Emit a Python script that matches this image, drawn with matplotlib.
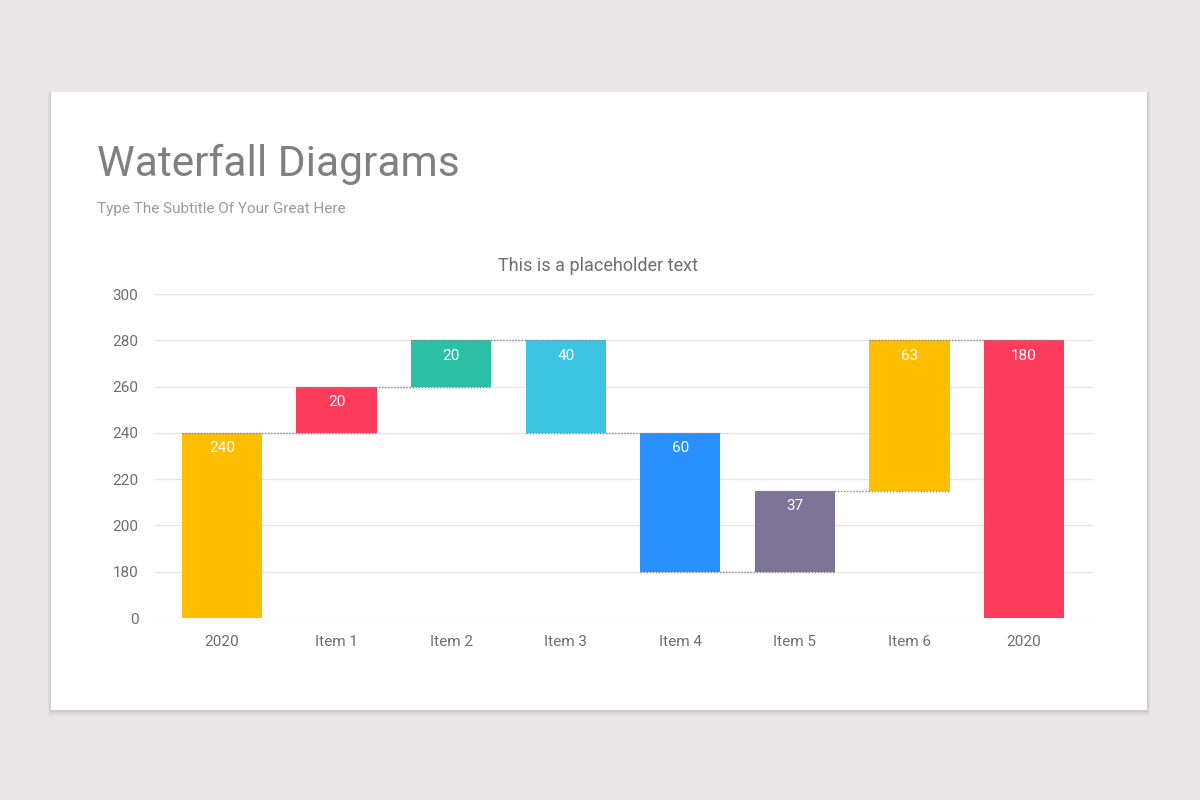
import numpy as np
import matplotlib.pyplot as plt
from matplotlib.patches import Rectangle

plt.rcParams['font.family'] = ['Roboto', 'DejaVu Sans']

# -------------------------------------------------
# data
# -------------------------------------------------
categories = ["2020", "Item 1", "Item 2", "Item 3", "Item 4", "Item 5", "Item 6", "2020"]
lows = [0, 240, 260, 240, 180, 180, 215, 0]
highs = [240, 260, 280, 280, 240, 215, 280, 280]
value_labels = ["240", "20", "20", "40", "60", "37", "63", "180"]
levels = [240, 260, 280, 240, 180, 215, 280]   # connector between bar i and i+1
colors = ["#FFBF00", "#FF3B5C", "#2BBFA6", "#3CC5E2", "#2990FF", "#7E7399", "#FFBF00", "#FF3B5C"]
yticks = [0, 180, 200, 220, 240, 260, 280, 300]


# broken axis: 0..180 squeezed into one tick step
def fwd(v):
    v = np.asarray(v, dtype=float)
    return np.where(v >= 180, v, 160 + v / 9.0)


def inv(y):
    y = np.asarray(y, dtype=float)
    return np.where(y >= 180, y, (y - 160) * 9.0)


fig = plt.figure(figsize=(12, 8), dpi=100)
fig.patch.set_facecolor("#E9E7E8")

# card with a soft shadow
for off, a in [(6, 0.03), (4, 0.04), (2, 0.05)]:
    fig.patches.append(Rectangle(((51 - off / 2) / 1200, (90 - off) / 800),
                                 (1096 + off) / 1200, (618 + off) / 800,
                                 transform=fig.transFigure, facecolor="black",
                                 alpha=a, edgecolor="none", zorder=-3))
fig.patches.append(Rectangle((51 / 1200, 90 / 800), 1096 / 1200, 618 / 800,
                             transform=fig.transFigure, facecolor="white",
                             edgecolor="none", zorder=-2))

fig.text(97 / 1200, 1 - 164 / 800, "Waterfall Diagrams", fontsize=30.6,
         color="#808080", va="center", ha="left")
fig.text(97 / 1200, 1 - 209 / 800, "Type The Subtitle Of Your Great Here",
         fontsize=11, color="#9A9A9A", va="center", ha="left")
fig.text(598 / 1200, 1 - 266 / 800, "This is a placeholder text",
         fontsize=13, color="#6E6E6E", va="center", ha="center")

ax = fig.add_axes([155 / 1200, 1 - 618 / 800, 938 / 1200, 324 / 800])
ax.set_zorder(2)
ax.set_facecolor("none")
ax.set_yscale("function", functions=(fwd, inv))
ax.set_ylim(0, 300)
ax.set_xlim(-0.585, 7.602)

x = np.arange(len(categories))
w = 0.7
heights = [h - l for h, l in zip(highs, lows)]
ax.bar(x, heights, bottom=lows, width=w, color=colors, zorder=2)

for i, lv in enumerate(levels):
    ax.plot([i - w / 2, i + 1 + w / 2], [lv, lv], linestyle=(0, (1, 1.2)),
            color="#8A8A8A", lw=1, zorder=3)

for i in range(len(categories)):
    ax.annotate(value_labels[i], (x[i], highs[i]), xytext=(0, -11),
                textcoords="offset points", ha="center", va="center",
                color="white", fontsize=11, zorder=4)

ax.set_yticks(yticks)
ax.set_yticklabels([str(t) for t in yticks])
ax.set_xticks(x)
ax.set_xticklabels(categories)
ax.tick_params(length=0, labelsize=11, labelcolor="#6E6E6E")
ax.tick_params(axis="x", pad=12)
ax.tick_params(axis="y", pad=12)
ax.grid(axis="y", color="#E6E6E6", lw=1, zorder=0)
for s in ax.spines.values():
    s.set_visible(False)

fig.savefig("out.png", dpi=100)
